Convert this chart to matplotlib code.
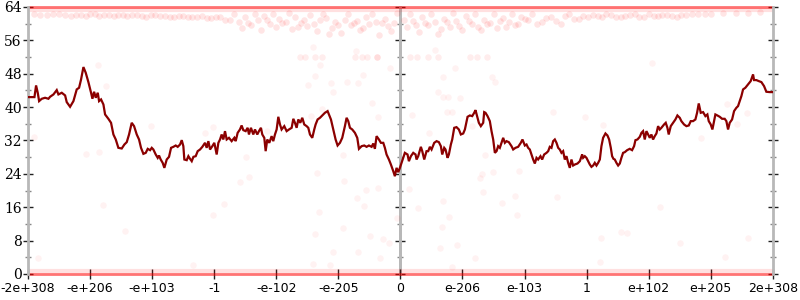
import matplotlib
matplotlib.use('Agg')
import matplotlib.pyplot as plt

# ---------------- data ----------------
tick_pos = [-6, -5, -4, -3, -2, -1, 0, 1, 2, 3, 4, 5, 6]
tick_labels = ['-2e+308', '-e+206', '-e+103', '-1', '-e-102', '-e-205', '0',
               'e-206', 'e-103', '1', 'e+102', 'e+205', '2e+308']
y_ticks = [0, 8, 16, 24, 32, 40, 48, 56, 64]
y_minor = [4, 12, 20, 28, 36, 44, 52, 60]

line_x = [-6.00, -5.896, -5.870, -5.843, -5.821, -5.778, -5.725, -5.671, -5.644, -5.590,
          -5.537, -5.510, -5.456, -5.402, -5.376, -5.322, -5.268, -5.215, -5.177, -5.145,
          -5.107, -5.070, -5.027, -4.984, -4.962, -4.935, -4.908, -4.876, -4.855, -4.823,
          -4.785, -4.758, -4.705, -4.662, -4.624, -4.586, -4.544, -4.490, -4.447, -4.409,
          -4.372, -4.329, -4.291, -4.248, -4.211, -4.179, -4.141, -4.103, -4.071, -4.033,
          -4.006, -3.980, -3.942, -3.910, -3.889, -3.862, -3.830, -3.803, -3.765, -3.728,
          -3.695, -3.658, -3.620, -3.588, -3.550, -3.523, -3.497, -3.481, -3.443, -3.416,
          -3.389, -3.362, -3.335, -3.298, -3.266, -3.228, -3.191, -3.148, -3.121, -3.094,
          -3.067, -3.030, -2.998, -2.960, -2.933, -2.906, -2.880, -2.853, -2.826, -2.799,
          -2.762, -2.719, -2.676, -2.654, -2.622, -2.585, -2.558, -2.531, -2.493, -2.461,
          -2.440, -2.408, -2.370, -2.343, -2.306, -2.279, -2.247, -2.225, -2.193, -2.171,
          -2.145, -2.112, -2.075, -2.048, -2.021, -1.994, -1.967, -1.940, -1.914, -1.871,
          -1.833, -1.795, -1.752, -1.725, -1.699, -1.672, -1.645, -1.613, -1.581, -1.549,
          -1.511, -1.484, -1.457, -1.420, -1.388, -1.366, -1.334, -1.296, -1.259, -1.216,
          -1.173, -1.151, -1.119, -1.082, -1.044, -1.012, -0.974, -0.937, -0.894, -0.867,
          -0.840, -0.813, -0.776, -0.733, -0.695, -0.668, -0.625, -0.582, -0.545, -0.507,
          -0.464, -0.437, -0.411, -0.384, -0.346, -0.314, -0.276, -0.250, -0.223, -0.185,
          -0.153, -0.115, -0.089, -0.062, -0.035, -0.008,
          0.019, 0.046, 0.072, 0.115, 0.137, 0.169, 0.207, 0.244, 0.260, 0.287,
          0.330, 0.352, 0.384, 0.421, 0.448, 0.475, 0.502, 0.545, 0.583, 0.620,
          0.652, 0.674, 0.706, 0.727, 0.760, 0.781, 0.813, 0.835, 0.867, 0.904,
          0.942, 0.974, 1.012, 1.039, 1.082, 1.119, 1.157, 1.189, 1.210, 1.243,
          1.264, 1.296, 1.334, 1.350, 1.371, 1.404, 1.441, 1.468, 1.495, 1.522,
          1.549, 1.575, 1.602, 1.629, 1.656, 1.683, 1.710, 1.747, 1.790, 1.817,
          1.854, 1.897, 1.940, 1.967, 2.005, 2.032, 2.058, 2.085, 2.112, 2.139,
          2.166, 2.193, 2.219, 2.257, 2.284, 2.316, 2.354, 2.381, 2.407, 2.434,
          2.461, 2.488, 2.515, 2.542, 2.568, 2.595, 2.622, 2.649, 2.676, 2.703,
          2.729, 2.756, 2.783, 2.810, 2.853, 2.891, 2.928, 2.944, 2.971, 2.998,
          3.025, 3.052, 3.078, 3.105, 3.132, 3.159, 3.186, 3.213, 3.239, 3.266,
          3.304, 3.336, 3.363, 3.390, 3.411, 3.433, 3.454, 3.481, 3.508, 3.535,
          3.561, 3.588, 3.615, 3.653, 3.695, 3.733, 3.765, 3.787, 3.819, 3.857,
          3.884, 3.910, 3.937, 3.964, 3.991, 4.018, 4.044, 4.071, 4.098, 4.125,
          4.152, 4.179, 4.205, 4.248, 4.275, 4.302, 4.323, 4.356, 4.393, 4.431,
          4.463, 4.501, 4.527, 4.570, 4.608, 4.646, 4.678, 4.715, 4.753, 4.780,
          4.807, 4.839, 4.877, 4.914, 4.946, 4.968, 5.000, 5.027, 5.054, 5.075,
          5.107, 5.145, 5.183, 5.225, 5.252, 5.279, 5.306, 5.344, 5.376, 5.413,
          5.440, 5.467, 5.494, 5.521, 5.558, 5.601, 5.644, 5.682, 5.698, 5.735,
          5.773, 5.816, 5.859, 5.896, 5.950, 6.000]
line_y = [42.4, 42.4, 45.2, 43.44, 41.44, 42.0, 42.24, 42.0, 42.48, 43.04,
          44.08, 43.04, 43.44, 42.8, 41.2, 40.08, 41.44, 44.24, 44.64, 46.64,
          49.6, 48.24, 46.0, 43.44, 42.0, 43.68, 42.24, 43.44, 41.44, 41.84,
          40.64, 38.24, 37.2, 36.24, 33.44, 32.24, 30.24, 30.08, 31.04, 31.6,
          33.44, 36.24, 35.44, 33.44, 32.24, 30.24, 28.8, 29.04, 30.0, 29.68,
          30.24, 29.84, 28.64, 27.84, 28.4, 27.44, 26.64, 25.44, 27.44, 28.08,
          30.24, 30.48, 30.8, 30.48, 31.04, 32.08, 30.64, 27.44, 27.28, 28.24,
          27.6, 27.04, 28.08, 28.24, 29.44, 29.84, 30.48, 31.44, 30.24, 31.84,
          29.84, 30.64, 31.44, 28.64, 31.44, 32.24, 33.44, 32.24, 34.24, 32.24,
          32.64, 31.84, 32.64, 31.84, 33.84, 34.64, 35.6, 34.48, 34.24, 35.04,
          33.44, 35.04, 33.44, 34.64, 33.44, 34.24, 35.04, 33.44, 32.64, 29.44,
          32.24, 31.44, 33.04, 31.84, 33.44, 34.64, 37.68, 35.84, 34.64, 35.44,
          34.24, 34.64, 35.04, 37.2, 36.24, 35.04, 37.04, 36.24, 37.44, 35.84,
          35.44, 35.04, 33.44, 32.64, 34.64, 35.84, 37.04, 37.44, 38.0, 38.64,
          39.04, 38.24, 37.04, 34.64, 32.24, 30.8, 31.44, 32.64, 35.44, 37.44,
          36.64, 35.04, 34.64, 33.84, 32.64, 30.0, 30.64, 30.8, 30.48, 30.8,
          30.48, 31.28, 30.0, 33.04, 32.24, 31.44, 31.44, 30.24, 28.64, 27.44,
          26.24, 24.64, 23.44, 25.44, 24.4, 25.44,
          26.64, 27.84, 29.04, 28.64, 27.04, 28.24, 29.04, 28.64, 27.44, 28.24,
          30.48, 29.44, 27.44, 29.44, 29.44, 30.48, 29.84, 31.44, 31.84, 31.6,
          30.64, 28.64, 30.24, 29.84, 27.84, 28.64, 31.04, 32.24, 35.04, 35.2,
          34.64, 33.44, 33.68, 34.64, 37.68, 38.0, 37.84, 38.64, 39.28, 37.44,
          36.24, 35.44, 36.24, 38.8, 38.64, 37.84, 36.64, 34.24, 32.24, 29.04,
          29.44, 30.64, 30.24, 31.44, 32.64, 31.44, 31.84, 31.6, 30.64, 29.84,
          30.24, 30.48, 31.44, 32.24, 30.8, 31.04, 30.24, 29.84, 28.64, 27.44,
          26.48, 27.84, 27.44, 28.24, 27.44, 28.64, 29.04, 29.44, 30.48, 30.24,
          31.84, 32.24, 31.44, 30.24, 29.84, 29.04, 29.44, 27.44, 28.24, 26.64,
          25.44, 27.44, 26.0, 26.24, 26.48, 27.04, 28.64, 27.84, 28.24, 27.84,
          27.04, 26.24, 25.68, 26.0, 26.64, 26.0, 26.64, 27.44, 30.64, 32.64,
          33.68, 33.2, 32.24, 30.24, 28.24, 27.6, 27.44, 26.64, 26.0, 26.48,
          27.84, 29.04, 29.2, 29.68, 30.0, 29.68, 30.64, 32.08, 32.24, 32.88,
          33.84, 34.24, 32.24, 34.24, 33.44, 32.64, 33.44, 32.24, 33.04, 33.68,
          35.44, 34.64, 35.04, 35.84, 36.24, 35.04, 33.44, 35.44, 36.24, 37.04,
          38.0, 37.44, 36.64, 35.84, 35.44, 35.6, 36.64, 36.64, 37.04, 38.64,
          40.88, 38.64, 38.8, 37.84, 38.24, 36.64, 35.84, 34.64, 36.64, 38.24,
          38.0, 37.68, 37.2, 37.2, 36.64, 34.64, 36.24, 37.04, 39.04, 39.84,
          40.24, 41.44, 42.64, 44.24, 44.64, 45.44, 46.24, 47.84, 46.48, 46.48,
          46.24, 46.0, 45.04, 43.68, 43.6, 43.6]

# faint sample points (bits of error per sampled input)
upper_x = [-5.9, -5.7, -5.5, -5.3, -5.15, -5.0, -4.85, -4.7, -4.55, -4.4, -4.25, -4.1,
           -3.95, -3.8, -3.65, -3.5, -3.35, -3.2, -3.05, -2.9,
           -2.75, -2.6, -2.5, -2.4, -2.3, -2.2, -2.1, -2.0, -1.95, -1.85, -1.75, -1.7,
           -1.6, -1.5, -1.45, -1.35, -1.3, -1.2, -1.1, -1.05, -0.95, -0.9, -0.8, -0.7,
           -0.65, -0.55, -0.5, -0.4, -0.35, -0.25, -0.2, -0.1, 0.05, 0.1, 0.2, 0.3,
           0.35, 0.45, 0.55, 0.6, 0.7, 0.8, 0.9, 1.0, 1.05, 1.15, 1.25, 1.35, 1.45,
           1.55, 1.65, 1.75, 1.85, 1.95, 2.05, 2.2, 2.35, 2.5, 2.65, 2.8,
           2.95, 3.1, 3.25, 3.4, 3.55, 3.7, 3.85, 4.0, 4.15, 4.3, 4.45, 4.6, 4.8, 5.0,
           5.2, 5.4, 5.6, 5.8]
upper_y = [62.2, 62.0, 62.3, 61.9, 62.1, 62.2, 61.8, 62.0, 62.1, 61.9, 62.0, 61.7,
           62.0, 61.8, 61.6, 61.9, 61.5, 61.8, 61.3, 61.6,
           61.0, 60.4, 61.5, 59.8, 60.8, 61.8, 60.0, 59.2, 61.2, 60.5, 58.8, 61.6,
           60.2, 59.5, 62.0, 58.2, 60.8, 61.4, 59.0, 60.3, 57.8, 61.0, 59.6, 60.6,
           58.5, 61.7, 59.9, 60.5, 57.2, 61.2, 59.4, 60.2, 61.0, 59.2, 60.7, 58.0,
           61.5, 59.8, 60.4, 57.5, 61.2, 59.3, 60.6, 58.6, 61.8, 60.0, 59.2, 61.0,
           60.2, 58.9, 61.4, 60.3, 59.6, 61.7, 60.8, 59.9, 61.3, 60.6, 61.8, 61.2,
           61.8, 62.0, 61.6, 62.1, 61.7, 62.0, 61.6, 62.2, 61.8, 62.0, 61.7, 62.1,
           62.3, 62.4, 62.5, 62.6, 62.5, 62.7]
upper2_x = [-5.8, -5.6, -5.4, -5.22, -5.07, -4.92, -4.77, -4.62, -4.47, -4.32, -4.17,
            -4.02, -3.87, -3.72, -3.57, -3.42, -3.27, -3.12, -2.97, -2.82,
            -2.68, -2.55, -2.45, -2.35, -2.25, -2.15, -2.05, -1.9, -1.8, -1.65,
            -1.55, -1.4, -1.25, -1.15, -1.0, -0.85, -0.75, -0.6, -0.45, -0.3,
            -0.15, -0.05, 0.15, 0.25, 0.4, 0.5, 0.65, 0.75, 0.85, 0.95,
            1.1, 1.2, 1.3, 1.4, 1.5, 1.6, 1.7, 1.8, 1.9, 2.0,
            2.12, 2.28, 2.42, 2.58, 2.72, 2.88,
            3.02, 3.18, 3.32, 3.48, 3.62, 3.78, 3.92, 4.08, 4.22, 4.38, 4.52, 4.7, 4.9]
upper2_y = [62.0, 62.3, 62.1, 62.0, 61.9, 62.2, 62.0, 61.8, 62.1, 62.0, 61.8,
            62.0, 61.9, 61.7, 61.8, 61.6, 61.7, 61.4, 61.5, 60.9,
            62.2, 59.0, 60.2, 62.4, 58.6, 60.9, 62.3, 60.1, 62.5, 59.3,
            61.0, 60.0, 62.2, 57.6, 59.8, 62.3, 60.2, 59.0, 62.4, 60.1,
            58.3, 62.5, 62.3, 59.8, 60.1, 62.4, 58.8, 60.4, 62.5, 59.4,
            60.7, 62.3, 58.4, 59.9, 62.2, 60.7, 59.1, 62.3, 60.0, 61.1,
            62.4, 60.5, 61.6, 60.0, 62.3, 61.2,
            61.5, 61.9, 62.3, 61.6, 61.9, 62.2, 61.7, 61.9, 62.1, 61.8, 62.0, 62.2, 62.2]
row52_x = [-1.62, -1.54, -1.38, -1.26, -0.73, -0.62, -0.54, -0.38, -0.38, 0.15, 0.27,
           0.44, 0.6, 1.12, 1.23, 1.39]
row52_y = [52, 52, 52, 52, 52, 52, 52, 52, 52, 52, 52, 52, 52, 52, 52, 52]
sparse_x = [-4.79, -4.44, -5.84, -3.34, -4.87, -4.74, -5.9, -5.06, -4.85, -4.02,
            -3.15, -3.02, -2.49, -2.58, -2.44, -2.84, -3.02, -2.15, -1.44, -1.26,
            -0.46, -0.36, -1.35, -0.91, -0.56, -0.7, -0.59, -0.36, -1.31, -0.93,
            0.19, 0.75, 0.83, 0.46, 2.46, 1.15, 1.36, 1.31, 1.28, 1.49, 1.91, 0.14,
            0.69, 1.33, 1.63, 1.84, 2.52, 0.28, 0.78, 1.88, 2.97,
            -1.38, -0.93, -0.49, -0.28, -0.18, -1.09, -0.68, -0.33, -1.41, -1.14,
            0.67, 0.91, 0.64, 1.2, 0.83, -0.06,
            4.18, 3.55, 3.65, 3.24, 4.5, 5.23, 5.6, 3.21,
            4.05, 3.26, 4.84, 5.26, 5.58, 5.42,
            -1.41, -0.72, -1.3, -1.38, -1.49, -1.12, -0.86, -0.6, -0.68, -0.17, -1.09,
            0.56, 0.88, 0.68, 0.6, 0.68, 0.77, 0.96, 1.48, 1.52]
sparse_y = [16.5, 10.4, 3.8, 2.2, 50.1, 45.0, 32.8, 28.8, 29.2, 35.5,
            33.8, 35.2, 28.0, 22.0, 23.3, 16.8, 14.1, 34.3, 37.9, 39.5,
            41.0, 37.6, 24.2, 22.3, 20.1, 18.2, 16.3, 20.6, 14.9, 28.5,
            38.1, 38.8, 38.8, 33.8, 38.8, 35.5, 28.5, 24.0, 23.0, 24.4, 24.7, 20.4,
            17.5, 19.7, 17.0, 18.7, 18.5, 15.8, 13.7, 14.1, 37.6,
            9.6, 11.0, 9.1, 8.4, 7.4, 5.3, 5.3, 3.8, 2.4, 2.2,
            11.3, 7.0, 6.2, 3.8, 1.7, 13.4,
            16.1, 10.0, 9.8, 8.6, 7.4, 4.1, 8.6, 2.9,
            50.6, 35.7, 32.6, 40.7, 38.6, 36.0,
            54.4, 53.5, 50.1, 47.5, 45.3, 45.8, 46.0, 47.7, 45.8, 49.4, 43.6,
            53.7, 49.4, 47.2, 43.6, 42.4, 42.4, 42.2, 47.2, 46.0]
saturated_levels = [64, 0]      # dense rows of samples at the extremes
near_levels = [63.3, 0.8]       # slightly less dense rows just inside

# ---------------- plot ----------------
SPINE = '#b8b8b8'
fig = plt.figure(figsize=(8, 3), dpi=100)
ax = fig.add_axes([0.035, 0.0867, 0.931, 0.89])
ax.set_xlim(tick_pos[0], tick_pos[-1])
ax.set_ylim(0, 64)

ax.hlines(saturated_levels, tick_pos[0], tick_pos[-1], color='red', alpha=0.55,
          lw=2.0, clip_on=False, zorder=2)
ax.hlines(near_levels, tick_pos[0], tick_pos[-1], color='red', alpha=0.12,
          lw=3, clip_on=False, zorder=2)
ax.scatter(upper_x, upper_y, s=22, color='red', alpha=0.10, lw=0, zorder=2)
ax.scatter(upper2_x, upper2_y, s=22, color='red', alpha=0.10, lw=0, zorder=2)
ax.scatter(row52_x, row52_y, s=22, color='red', alpha=0.07, lw=0, zorder=2)
ax.scatter(sparse_x, sparse_y, s=22, color='red', alpha=0.05, lw=0, zorder=2)

ax.plot(line_x, line_y, color='#8b0000', lw=1.6, zorder=4, solid_joinstyle='miter')

ax.axvline(0, color=SPINE, lw=2, zorder=1)

for s in ['top', 'bottom']:
    ax.spines[s].set_visible(False)
for s in ['left', 'right']:
    ax.spines[s].set_color(SPINE)
    ax.spines[s].set_linewidth(2)

ax.set_xticks(tick_pos)
ax.set_xticklabels(tick_labels, fontfamily='DejaVu Sans', fontsize=9)
ax.set_yticks(y_ticks)
ax.set_yticks(y_minor, minor=True)
ax.set_yticklabels([str(v) for v in y_ticks], fontfamily='DejaVu Serif', fontsize=10)
ax.tick_params(axis='x', direction='inout', length=7, width=1, color='#222222', pad=2)
ax.tick_params(axis='y', which='major', direction='inout', length=7, width=1,
               color='#222222', right=True, pad=1)
ax.tick_params(axis='y', which='minor', direction='inout', length=4, width=1,
               color='#888888', right=True)

mid = ax.secondary_yaxis(0.5)
mid.set_yticks(y_ticks)
mid.set_yticks(y_minor, minor=True)
mid.tick_params(which='major', direction='inout', length=7, width=1, color='#222222',
                labelleft=False, labelright=False)
mid.tick_params(which='minor', direction='inout', length=4, width=1, color='#888888')
mid.set_yticklabels([])
for sp in mid.spines.values():
    sp.set_color(SPINE)
    sp.set_linewidth(2)

fig.savefig('out.png', dpi=100)
